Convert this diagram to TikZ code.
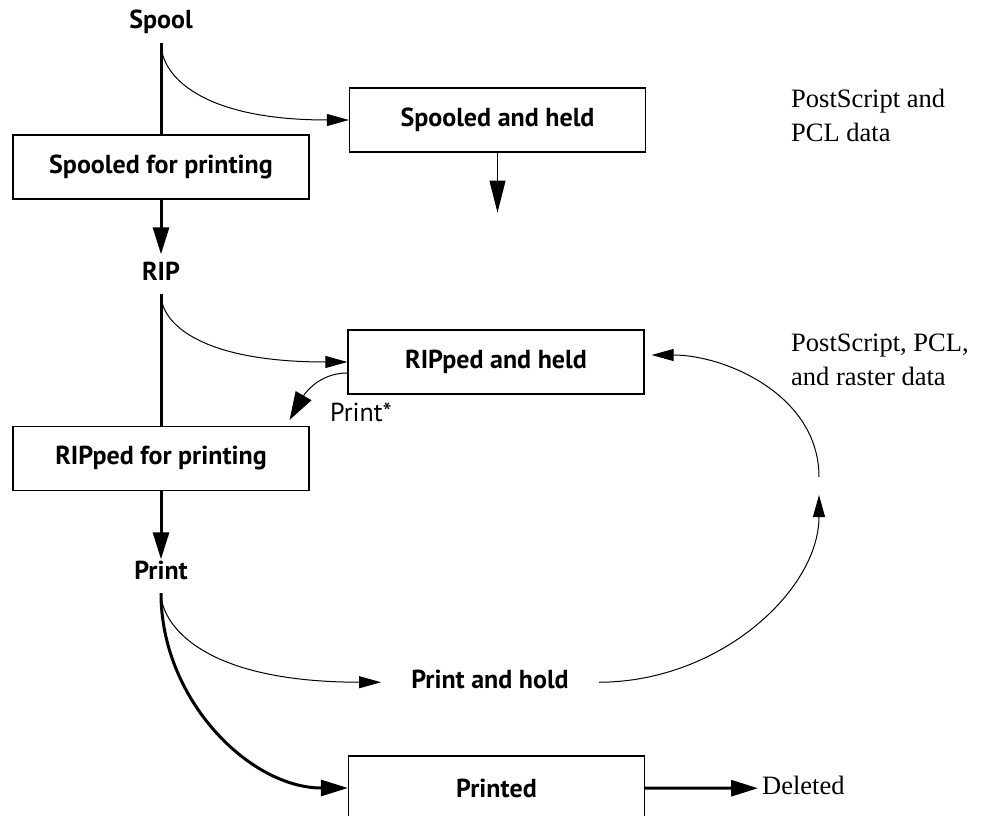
\documentclass[tikz,border=0pt]{standalone}
\usepackage{fontspec}
\setsansfont{PT Sans}
\newfontfamily\notefont{Liberation Serif}
\usetikzlibrary{arrows.meta}

\begin{document}
\begin{tikzpicture}[x=1pt, y=-1pt, font={\sffamily\fontsize{26}{31}\selectfont},
stage/.style={draw, line width=1.2pt, minimum width=296pt, minimum height=64pt,
inner sep=0pt, font={\sffamily\bfseries\fontsize{26}{31}\selectfont}},
lbl/.style={anchor=base, text height=17.5pt, text depth=6pt, inner xsep=4pt,
inner ysep=8pt, font={\sffamily\bfseries\fontsize{26}{31}\selectfont}},
note/.style={anchor=north west, align=left, inner sep=0pt,
font={\notefont\fontsize{26.5}{34}\selectfont}},
heavy/.style={line width=3pt, -{Triangle[length=27pt, width=16pt]}},
light/.style={line width=1pt, -{Triangle[length=22pt, width=12pt]}},
]
\useasboundingbox (0,0) rectangle (983,816);

\path
(161,29) node[lbl] (spool) {Spool}
(161,167) node[stage] (sp1) {Spooled for printing}
(497.5,120) node[stage] (sp2) {Spooled and held}
(161,280) node[lbl] (rip) {RIP}
(161,458.5) node[stage] (r1) {RIPped for printing}
(496,362) node[stage] (r2) {RIPped and held}
(161,579) node[lbl] (print) {Print}
(490,688) node[lbl, inner xsep=30pt] (pah) {Print and hold}
(496.5,788) node[stage] (p2) {Printed}
(758,794) node[lbl, anchor=base west, font={\notefont\fontsize{26.5}{34}\selectfont}] (del) {Deleted}
(361,421) node[anchor=base, inner sep=0pt] (pstar) {Print*}
(791,89) node[note] (n1) {PostScript and\\PCL data}
(791,334) node[note] (n2) {PostScript, PCL,\\and raster data}
;

\path (sp2.south) ++(0,60) coordinate (sp2end);
\coordinate (up1) at (819,495);
\path (up1) ++(0,-18) coordinate (up2);

% main flow
\draw[line width=3pt] (spool) -- (sp1);
\draw[heavy] (sp1) -- (rip);
\draw[line width=3pt] (rip) -- (r1);
\draw[heavy, shorten >=-6pt] (r1) -- (print);
\draw[heavy] (print.south) .. controls (161,700) and (250,788) .. (p2.west);
\draw[heavy] (p2) -- (del);

% held jobs
\draw[light] (spool.south) .. controls (161,75) and (200,120) .. (sp2.west);
\draw[line width=1pt, -{Triangle[length=32pt, width=16pt]}] (sp2) -- (sp2end);
\draw[light] (rip.south) .. controls (161,323) and (200,362) .. (r2.west);
\draw[line width=1pt, -{Triangle[length=28pt, width=18pt]}]
([yshift=-11pt]r2.west) to[out=180, in=60] ([xshift=-20pt, yshift=6pt]r1.north east);
\draw[light] (print.south) .. controls (161,620) and (195,682) .. (pah.west);
\draw[light] (pah.east) .. controls (720,682) and (819,590) .. (up1);
\draw[light] (up2) .. controls (819,395) and (725,355) .. ([xshift=7pt, yshift=7pt]r2.east);

\end{tikzpicture}
\end{document}
